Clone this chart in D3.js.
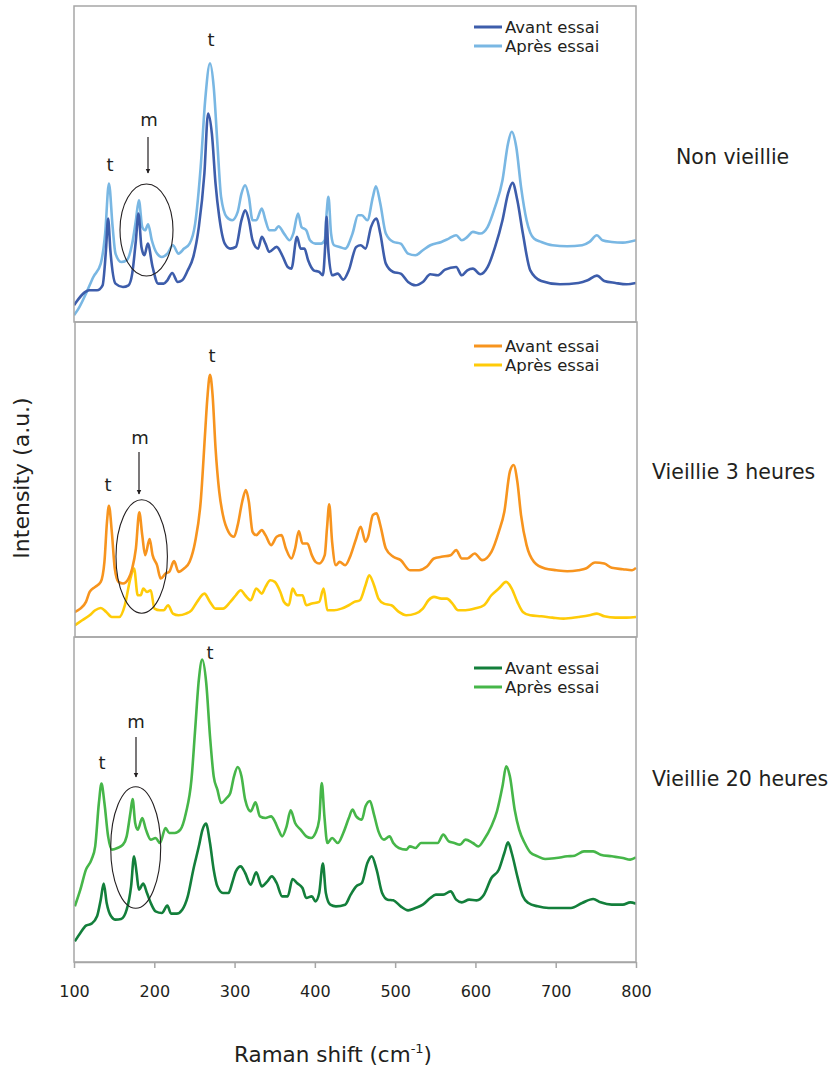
<!DOCTYPE html>
<html>
<head>
<meta charset="utf-8">
<script src="https://cdn.jsdelivr.net/npm/d3@7"></script>
<style>
  html, body { margin: 0; padding: 0; background: #ffffff; }
  svg { display: block; }
  text { font-family: "DejaVu Sans", "Liberation Sans", sans-serif; fill: #231f20; }
</style>
</head>
<body>
<svg id="chart" width="831" height="1070"></svg>
<script>
// ---------------- DATA ----------------
const xTicks = [100, 200, 300, 400, 500, 600, 700, 800];
const xDomain = [100, 800];
const legendLabels = ["Avant essai", "Après essai"];
const panelLabels = ["Non vieillie", "Vieillie 3 heures", "Vieillie 20 heures"];
const xTitle = "Raman shift (cm";
const yTitle = "Intensity (a.u.)";
const yMax = [947, 943, 975]; // intensity range (a.u.) of each panel

// Panel 1 - Non vieillie  [wavenumber (cm-1), intensity (a.u.)]
const p1Avant = [[100,50],[119.5,95],[128.7,95],[135.6,110],[139.8,215],[142.5,310],[145.3,215],[151.7,115],[161,105],[167.9,110],[172.5,145],[177.1,245],[180.3,325],[184,225],[187.7,200],[191.9,235],[197.9,165],[204.8,115],[211.7,115],[216.3,125],[222.3,147],[229.2,120],[234.8,125],[241.7,155],[248.6,195],[255.5,285],[262.4,445],[267,625],[271.7,565],[276.3,415],[280.9,315],[287.8,235],[294.7,220],[301.6,225],[308.6,305],[313.2,335],[317.8,305],[322.4,245],[329.3,220],[333.9,255],[338.5,235],[343.1,210],[352.4,225],[359.3,200],[366.2,165],[370.8,160],[377.7,255],[382.3,220],[387,220],[391.6,185],[398.5,155],[405.4,150],[410,140],[412.8,225],[414.6,315],[416.5,225],[421.5,140],[428.5,145],[435.4,127],[442.3,155],[451.5,225],[457.1,230],[463.1,220],[470,285],[476.9,310],[481.5,265],[488.4,175],[497.7,150],[506.9,145],[516.1,120],[525.3,110],[534.5,120],[543.8,143],[553,140],[562.2,157],[576,165],[583,140],[589.9,155],[596.8,160],[606,143],[615.3,165],[624.5,225],[633.7,305],[640.6,385],[646.2,417],[652.2,365],[659.1,265],[668.3,155],[682.1,123],[705.2,113],[728.3,117],[739.8,125],[751.3,139],[760.5,123],[774.4,117],[788.2,113],[800,117]];
const p1Apres = [[100,20],[105.6,40],[114.9,85],[124.1,135],[133.3,175],[138.8,265],[143.5,415],[148.1,285],[151.7,205],[158.7,180],[165.6,185],[172.5,235],[177.1,305],[180.8,365],[185,285],[188.6,275],[192.3,293],[196.9,245],[203.4,205],[209.4,195],[216.3,205],[223.2,230],[230.2,205],[237.1,220],[244,235],[250.9,295],[257.8,465],[263.4,665],[269.4,775],[274,705],[278.6,535],[283.2,375],[290.1,315],[297,305],[303.9,330],[308.6,385],[313.2,410],[317.8,375],[322.4,305],[327,305],[333.9,340],[338.5,305],[343.1,275],[350.1,275],[354.7,287],[361.6,265],[368.5,245],[373.1,265],[379.1,325],[383.3,285],[389.3,275],[393.9,245],[400.8,235],[407.7,235],[412.3,245],[414.6,325],[416.9,375],[420.2,265],[423.9,230],[430.8,225],[437.7,220],[446.9,265],[453.8,320],[458.5,320],[465.4,305],[472.3,375],[476,407],[481.5,355],[488.4,265],[497.7,240],[506.9,235],[516.1,205],[525.3,200],[534.5,215],[543.8,230],[557.6,240],[566.8,250],[576,260],[583,245],[589.9,255],[596.8,270],[606,265],[615.3,285],[624.5,345],[633.7,425],[640.6,535],[645.2,570],[650.8,525],[656.8,405],[663.7,305],[672.9,250],[682.1,240],[696,230],[714.4,227],[732.9,230],[742.1,240],[751.3,260],[758.2,245],[769.8,240],[783.6,238],[800,245]];

// Panel 2 - Vieillie 3 heures
const p2Avant = [[101,75],[107.9,85],[114.9,105],[119.5,135],[126.4,150],[133.3,165],[137.9,225],[141.1,345],[143.5,393],[147.1,315],[150.8,205],[155.4,165],[161,160],[167.9,175],[172.5,205],[177.1,265],[181.3,373],[185,305],[188.6,245],[194.2,293],[197.9,245],[203.4,215],[208,175],[214,190],[218.6,195],[224.6,227],[230.2,195],[237.1,205],[244,225],[250.9,285],[257.8,405],[263.4,615],[266.1,715],[269.4,785],[272.6,725],[276.3,565],[280.9,435],[285.5,365],[292.4,315],[299.3,300],[303.9,335],[309.5,405],[314.1,440],[317.8,405],[322.4,315],[327,305],[333.9,320],[338.5,305],[345.5,275],[352.4,300],[358.4,305],[363.9,265],[370.8,235],[375.4,265],[380,317],[384.6,280],[390.7,280],[396.2,245],[400.8,225],[405.4,220],[412.3,245],[415.1,325],[417.9,397],[421.5,285],[426.2,215],[430.8,225],[437.7,215],[444.6,245],[451.5,295],[457.1,330],[463.1,285],[466.3,300],[472.3,365],[476.9,370],[481.5,335],[488.4,265],[497.7,240],[506.9,230],[518.4,200],[529.9,200],[539.2,210],[548.4,235],[557.6,240],[569.1,245],[576,260],[583,235],[589.9,235],[599.1,250],[608.3,230],[619.9,255],[629.1,315],[636,375],[642.9,495],[647.5,515],[652.2,465],[656.8,365],[663.7,275],[672.9,225],[686.7,205],[700.6,200],[714.4,197],[728.3,200],[737.5,205],[749,223],[760.5,220],[769.8,207],[783.6,203],[795.1,200],[800,207]];
const p2Apres = [[101,35],[110.2,50],[119.5,65],[126.4,80],[133.3,87],[140.2,75],[147.1,60],[156.4,60],[163.3,95],[170.2,175],[174.8,205],[179.4,125],[183.1,125],[186.3,145],[190.9,135],[195.6,140],[200.2,85],[207.1,80],[211.7,80],[217.2,95],[223.2,70],[230.2,65],[239.4,70],[246.3,80],[253.2,105],[262.4,130],[269.4,105],[276.3,85],[285.5,85],[294.7,105],[301.6,125],[307.6,140],[313.2,125],[320.1,110],[327,145],[333.9,130],[338.5,150],[344.5,170],[350.1,165],[357,135],[361.6,105],[367.6,95],[372.2,145],[377.7,125],[384.6,125],[389.3,95],[396.2,100],[405.4,105],[410.9,145],[415.6,80],[423.9,80],[433.1,85],[442.3,95],[449.2,105],[456.1,110],[463.1,155],[467.7,185],[473.7,155],[479.2,115],[486.1,100],[495.4,95],[504.6,75],[513.8,65],[525.3,70],[534.5,85],[541.5,110],[548.4,120],[557.6,115],[564.5,115],[571.4,100],[578.4,80],[587.6,80],[599.1,85],[610.6,95],[619.9,125],[629.1,145],[638.3,165],[645.2,145],[652.2,105],[659.1,75],[668.3,65],[682.1,62],[696,58],[709.8,55],[728.3,60],[742.1,65],[751.3,70],[760.5,62],[774.4,58],[788.2,58],[800,60]];

// Panel 3 - Vieillie 20 heures
const p3Avant = [[101,62],[107.9,87],[114.9,109],[121.8,115],[128.7,137],[133.3,187],[137,235],[140.7,177],[146.2,137],[151.7,127],[158.7,129],[165.6,157],[171.1,227],[174.8,317],[178,267],[180.8,217],[186.3,235],[190.9,207],[195.6,177],[201.6,152],[209.4,147],[216.3,169],[220.9,145],[227.8,145],[234.8,157],[241.7,197],[248.6,277],[255.5,347],[260.1,397],[264.3,415],[269.4,357],[274,277],[278.6,227],[285.5,207],[292.4,207],[297,237],[301.6,272],[307.6,287],[313.2,267],[320.1,232],[327,269],[333.9,227],[340.8,242],[346.4,257],[352.4,237],[359.3,197],[366.2,197],[372.2,249],[377.7,237],[384.6,222],[389.3,192],[396.2,197],[400.8,182],[405.4,207],[410,295],[413.7,207],[419.2,172],[426.2,167],[437.7,172],[444.6,202],[451.5,227],[458.5,237],[465.4,297],[470.9,317],[476.9,277],[483.8,207],[490.7,187],[497.7,185],[506.9,167],[516.1,155],[525.3,162],[534.5,172],[543.8,192],[550.7,202],[559.9,202],[569.1,212],[576,187],[583,179],[592.2,187],[601.4,185],[610.6,202],[619.9,252],[629.1,277],[636,327],[640.6,359],[645.2,327],[652.2,257],[659.1,197],[666,177],[677.5,167],[691.3,162],[705.2,162],[719,162],[732.9,177],[746.7,189],[755.9,179],[769.8,172],[783.6,172],[792.8,179],[800,175]];
const p3Apres = [[101,167],[107.9,217],[114.9,277],[121.8,307],[126.4,347],[131,477],[134.2,535],[137.9,477],[142.5,377],[147.1,337],[154.1,342],[161,352],[165.6,377],[170.2,447],[173,489],[176.2,417],[179.4,397],[185,432],[189.6,397],[195.6,367],[201.6,372],[207.1,357],[214,402],[218.6,387],[225.5,387],[232.5,397],[239.4,447],[246.3,547],[250.9,697],[255.5,847],[259.7,907],[264.7,837],[269.4,677],[274,557],[278.6,517],[283.2,477],[290.1,492],[294.7,507],[299.3,557],[303.9,585],[308.6,557],[313.2,487],[320.1,452],[326.1,479],[331.6,437],[338.5,432],[345.5,437],[350.1,422],[354.7,397],[359.3,377],[364.8,407],[369.9,455],[375.4,417],[382.3,397],[389.3,377],[395.3,372],[400.8,387],[405.4,427],[408.6,537],[411.9,437],[415.6,357],[421.5,372],[428.5,357],[435.4,387],[442.3,432],[446.9,457],[451.5,437],[458.5,427],[463.1,467],[468.6,483],[473.7,442],[479.2,392],[486.1,367],[493,377],[497.7,357],[504.6,342],[513.8,337],[518.4,347],[525.3,342],[532.2,357],[543.8,357],[553,357],[559.9,382],[566.8,362],[573.7,357],[580.7,352],[587.6,367],[596.8,357],[603.7,347],[610.6,367],[619.9,407],[626.8,452],[633.7,527],[638.3,587],[642.9,557],[648.9,457],[654.5,397],[661.4,357],[668.3,329],[677.5,317],[686.7,309],[700.6,312],[714.4,317],[723.6,319],[735.2,332],[746.7,332],[755.9,322],[769.8,317],[783.6,312],[792.8,307],[800,314]];

// ---------------- LAYOUT ----------------
const svg = d3.select("#chart");
const X0 = 74, X1 = 636;
const panels = [
  { top: 6,   bottom: 322, left: 74, right: 636, series: [p1Avant, p1Apres], colors: ["#3d5dab", "#79b7e3"],
    label: { x: 676, y: 164 }, legend: { y: 27 },
    ann: { t1: [110, 171], m: [149, 126], arrow: [148, 137, 173], ell: [146.5, 230, 26.5, 46], t2: [211, 46] } },
  { top: 322, bottom: 637, left: 75, right: 637, series: [p2Avant, p2Apres], colors: ["#f7941e", "#ffcb08"],
    label: { x: 652, y: 479 }, legend: { y: 346 },
    ann: { t1: [108, 491], m: [140, 444], arrow: [139, 452, 494], ell: [141.7, 556.5, 25.7, 56.7], t2: [212, 362] } },
  { top: 637, bottom: 962, left: 74, right: 636, series: [p3Avant, p3Apres], colors: ["#137f3b", "#46b649"],
    label: { x: 652, y: 786 }, legend: { y: 668 },
    ann: { t1: [102, 769], m: [136, 728], arrow: [136, 737, 777], ell: [135.7, 847.5, 25, 60.8], t2: [210, 659] } }
];

const x = d3.scaleLinear().domain(xDomain).range([X0, X1]);

const defs = svg.append("defs");
defs.append("marker").attr("id", "arrow").attr("viewBox", "0 0 10 10")
  .attr("refX", 9).attr("refY", 5).attr("markerWidth", 5).attr("markerHeight", 6)
  .attr("markerUnits", "userSpaceOnUse").attr("orient", "auto")
  .append("path").attr("d", "M0,0 L10,5 L0,10 Z").attr("fill", "#231f20");

panels.forEach((p, i) => {
  const y = d3.scaleLinear().domain([0, yMax[i]]).range([p.bottom, p.top]);
  defs.append("clipPath").attr("id", "clip" + i)
    .append("rect").attr("x", p.left).attr("y", p.top)
    .attr("width", p.right - p.left).attr("height", p.bottom - p.top);

  const g = svg.append("g");
  const line = d3.line().x(d => x(d[0])).y(d => y(d[1])).curve(d3.curveMonotoneX);
  [1, 0].forEach(k => {
    g.append("path").datum(p.series[k])
      .attr("clip-path", `url(#clip${i})`)
      .attr("fill", "none").attr("stroke", p.colors[k])
      .attr("stroke-width", 2.6).attr("stroke-linejoin", "round")
      .attr("d", line);
  });

  // frame
  g.append("rect").attr("x", p.left).attr("y", p.top)
    .attr("width", p.right - p.left).attr("height", p.bottom - p.top)
    .attr("fill", "none").attr("stroke", "#a6a6a6").attr("stroke-width", 1.5);

  // legend
  legendLabels.forEach((lab, k) => {
    const ly = p.legend.y + k * 19;
    g.append("line").attr("x1", 474).attr("x2", 502).attr("y1", ly).attr("y2", ly)
      .attr("stroke", p.colors[k]).attr("stroke-width", 3);
    g.append("text").attr("x", 505).attr("y", ly).attr("dy", "0.36em")
      .attr("font-size", 16.5).text(lab);
  });

  // annotations
  const a = p.ann;
  g.append("text").attr("x", a.t1[0]).attr("y", a.t1[1]).attr("text-anchor", "middle").attr("font-size", 18).text("t");
  g.append("text").attr("x", a.t2[0]).attr("y", a.t2[1]).attr("text-anchor", "middle").attr("font-size", 18).text("t");
  g.append("text").attr("x", a.m[0]).attr("y", a.m[1]).attr("text-anchor", "middle").attr("font-size", 18).text("m");
  g.append("line").attr("x1", a.arrow[0]).attr("x2", a.arrow[0]).attr("y1", a.arrow[1]).attr("y2", a.arrow[2])
    .attr("stroke", "#231f20").attr("stroke-width", 1.2).attr("marker-end", "url(#arrow)");
  g.append("ellipse").attr("cx", a.ell[0]).attr("cy", a.ell[1]).attr("rx", a.ell[2]).attr("ry", a.ell[3])
    .attr("fill", "none").attr("stroke", "#231f20").attr("stroke-width", 1.1);

  // panel label
  svg.append("text").attr("x", p.label.x).attr("y", p.label.y).attr("font-size", 20.5).text(panelLabels[i]);
});

// x axis
const axis = d3.axisBottom(x).tickValues(xTicks).tickSizeInner(6).tickSizeOuter(0).tickPadding(18);
const ax = svg.append("g").attr("transform", `translate(0,962)`).call(axis);
ax.select(".domain").attr("stroke", "#a6a6a6").attr("stroke-width", 1.5);
ax.selectAll(".tick line").attr("stroke", "#a6a6a6").attr("stroke-width", 1.5);
ax.selectAll(".tick text").attr("font-size", 16).attr("fill", "#231f20")
  .attr("font-family", '"DejaVu Sans", "Liberation Sans", sans-serif');

// axis titles
const xt = svg.append("text").attr("x", 333).attr("y", 1062).attr("text-anchor", "middle").attr("font-size", 21.5);
xt.append("tspan").text(xTitle);
xt.append("tspan").attr("dy", -9).attr("font-size", 13).text("-1");
xt.append("tspan").attr("dy", 9).text(")");

svg.append("text").attr("transform", "translate(29,478) rotate(-90)").attr("text-anchor", "middle")
  .attr("font-size", 22).text(yTitle);
</script>
</body>
</html>
